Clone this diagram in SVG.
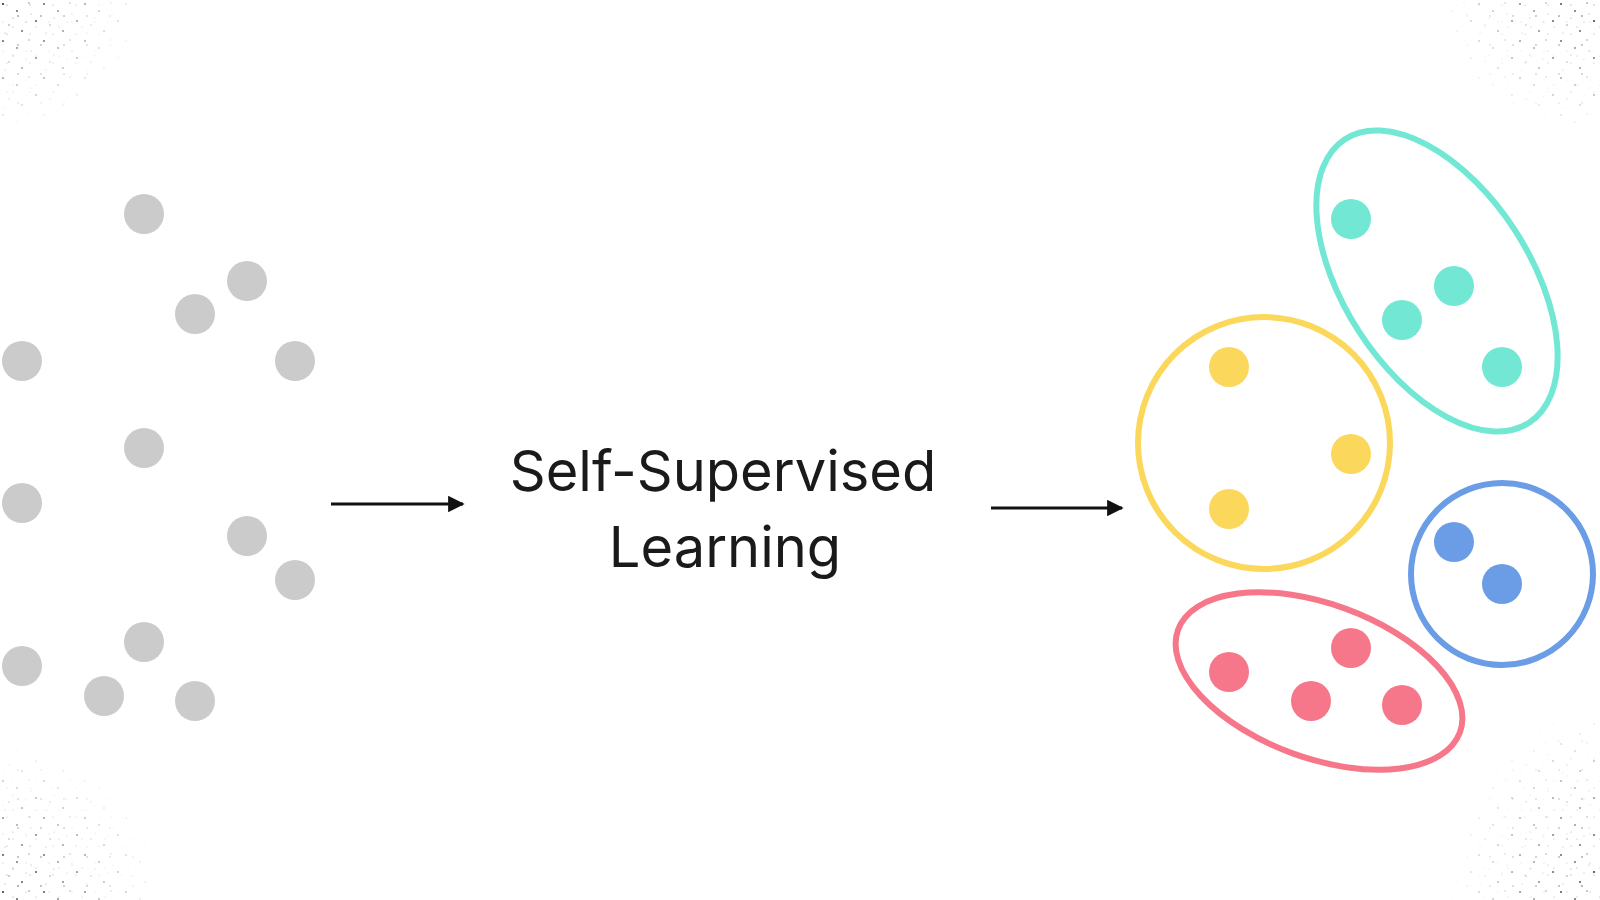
<svg xmlns="http://www.w3.org/2000/svg" width="1600" height="900" viewBox="0 0 1600 900">
  <style>
    .gray{fill:#cbcbcb}
    .teal{fill:#72e8d4}
    .yellow{fill:#fbd85c}
    .red{fill:#f6778a}
    .blue{fill:#6a9de6}
    .ring{fill:none;stroke-width:6}
    .label{font-family:"Inter","Liberation Sans",sans-serif;font-size:56px;fill:#1a1a1a;text-anchor:middle}
    .conn{stroke:#111;stroke-width:3;fill:none}
  </style>
  <defs>
    <marker id="ah" viewBox="0 0 10 10" refX="9" refY="5" markerWidth="5.5" markerHeight="5.5" orient="auto" markerUnits="strokeWidth">
      <path d="M0,0 L10,5 L0,10 z" fill="#111"/>
    </marker>
    <pattern id="speck" width="41" height="37" patternUnits="userSpaceOnUse">
      <circle cx="3" cy="4" r="1.1" fill="#222"/>
      <circle cx="17" cy="11" r="0.9" fill="#333"/>
      <circle cx="29" cy="3" r="0.7" fill="#555"/>
      <circle cx="36" cy="21" r="1.1" fill="#222"/>
      <circle cx="9" cy="25" r="0.7" fill="#555"/>
      <circle cx="22" cy="31" r="1" fill="#333"/>
      <circle cx="13" cy="18" r="0.6" fill="#777"/>
      <circle cx="31" cy="14" r="0.6" fill="#888"/>
      <circle cx="5" cy="33" r="0.6" fill="#888"/>
      <circle cx="26" cy="22" r="0.6" fill="#999"/>
    </pattern>
    <pattern id="speck2" width="23" height="29" patternUnits="userSpaceOnUse">
      <circle cx="7" cy="5" r="0.6" fill="#777"/>
      <circle cx="18" cy="16" r="0.8" fill="#444"/>
      <circle cx="3" cy="22" r="0.5" fill="#999"/>
      <circle cx="13" cy="27" r="0.6" fill="#888"/>
    </pattern>
    <radialGradient id="fadeTL" cx="0" cy="0" r="1"><stop offset="0" stop-color="#fff"/><stop offset="1" stop-color="#fff" stop-opacity="0"/></radialGradient>
    <mask id="mTL"><rect x="0" y="0" width="140" height="130" fill="url(#fadeTL)"/></mask>
    <radialGradient id="fadeTR" cx="1" cy="0" r="1"><stop offset="0" stop-color="#fff"/><stop offset="1" stop-color="#fff" stop-opacity="0"/></radialGradient>
    <mask id="mTR"><rect x="1440" y="0" width="160" height="135" fill="url(#fadeTR)"/></mask>
    <radialGradient id="fadeBL" cx="0" cy="1" r="1"><stop offset="0" stop-color="#fff"/><stop offset="1" stop-color="#fff" stop-opacity="0"/></radialGradient>
    <mask id="mBL"><rect x="0" y="745" width="160" height="155" fill="url(#fadeBL)"/></mask>
    <radialGradient id="fadeBR" cx="1" cy="1" r="1"><stop offset="0" stop-color="#fff"/><stop offset="1" stop-color="#fff" stop-opacity="0"/></radialGradient>
    <mask id="mBR"><rect x="1450" y="710" width="150" height="190" fill="url(#fadeBR)"/></mask>
  </defs>

  <rect x="0" y="0" width="1600" height="900" fill="#ffffff"/>

  <g id="texture">
    <rect x="0" y="0" width="140" height="130" fill="url(#speck)" mask="url(#mTL)"/>
    <rect x="0" y="0" width="140" height="130" fill="url(#speck2)" mask="url(#mTL)"/>
    <rect x="1440" y="0" width="160" height="135" fill="url(#speck)" mask="url(#mTR)"/>
    <rect x="1440" y="0" width="160" height="135" fill="url(#speck2)" mask="url(#mTR)"/>
    <rect x="0" y="745" width="160" height="155" fill="url(#speck)" mask="url(#mBL)"/>
    <rect x="0" y="745" width="160" height="155" fill="url(#speck2)" mask="url(#mBL)"/>
    <rect x="1450" y="710" width="150" height="190" fill="url(#speck)" mask="url(#mBR)"/>
    <rect x="1450" y="710" width="150" height="190" fill="url(#speck2)" mask="url(#mBR)"/>
  </g>

  <g id="unlabeled-data">
    <circle class="gray" cx="144" cy="214" r="20"/>
    <circle class="gray" cx="247" cy="281" r="20"/>
    <circle class="gray" cx="195" cy="314" r="20"/>
    <circle class="gray" cx="22" cy="361" r="20"/>
    <circle class="gray" cx="295" cy="361" r="20"/>
    <circle class="gray" cx="144" cy="448" r="20"/>
    <circle class="gray" cx="22" cy="503" r="20"/>
    <circle class="gray" cx="247" cy="536" r="20"/>
    <circle class="gray" cx="295" cy="580" r="20"/>
    <circle class="gray" cx="144" cy="642" r="20"/>
    <circle class="gray" cx="22" cy="666" r="20"/>
    <circle class="gray" cx="104" cy="696" r="20"/>
    <circle class="gray" cx="195" cy="701" r="20"/>
  </g>

  <g id="connectors">
    <line class="conn" x1="331" y1="504" x2="463" y2="504" marker-end="url(#ah)"/>
    <line class="conn" x1="991" y1="508" x2="1122" y2="508" marker-end="url(#ah)"/>
  </g>

  <g id="ssl-label">
    <text class="label" x="723" y="491">Self-Supervised</text>
    <text class="label" x="725" y="567">Learning</text>
  </g>

  <g id="cluster-teal">
    <ellipse class="ring" stroke="#72e8d4" cx="1437" cy="281" rx="93" ry="169" transform="rotate(-33 1437 281)"/>
    <circle class="teal" cx="1351" cy="219" r="20"/>
    <circle class="teal" cx="1454" cy="286" r="20"/>
    <circle class="teal" cx="1402" cy="320" r="20"/>
    <circle class="teal" cx="1502" cy="367" r="20"/>
  </g>

  <g id="cluster-yellow">
    <circle class="ring" stroke="#fbd85c" cx="1264" cy="443" r="126"/>
    <circle class="yellow" cx="1229" cy="367" r="20"/>
    <circle class="yellow" cx="1351" cy="454" r="20"/>
    <circle class="yellow" cx="1229" cy="509" r="20"/>
  </g>

  <g id="cluster-blue">
    <circle class="ring" stroke="#6a9de6" cx="1502" cy="574" r="91"/>
    <circle class="blue" cx="1454" cy="542" r="20"/>
    <circle class="blue" cx="1502" cy="584" r="20"/>
  </g>

  <g id="cluster-red">
    <ellipse class="ring" stroke="#f6778a" cx="1319" cy="681" rx="150" ry="77" transform="rotate(20 1319 681)"/>
    <circle class="red" cx="1229" cy="672" r="20"/>
    <circle class="red" cx="1351" cy="648" r="20"/>
    <circle class="red" cx="1311" cy="701" r="20"/>
    <circle class="red" cx="1402" cy="705" r="20"/>
  </g>
</svg>
